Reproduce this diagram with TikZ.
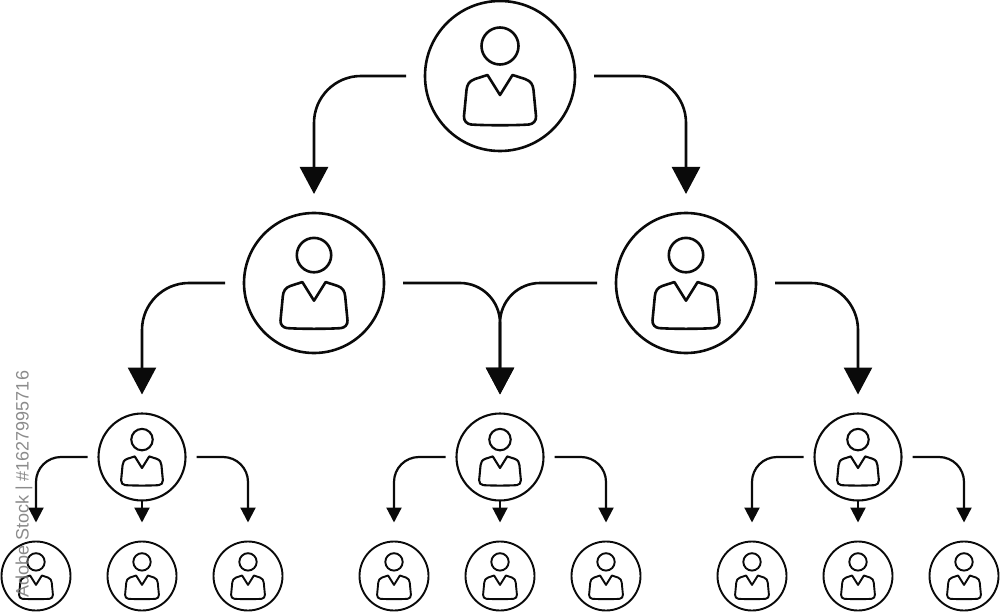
\documentclass[tikz,border=0pt]{standalone}
\usepackage{fontspec}
\setsansfont{Liberation Sans}
\usetikzlibrary{
  arrows.meta,
  positioning
}
\definecolor{orgInk}{HTML}{0A0A0A}
\definecolor{orgMark}{HTML}{777777}
\tikzset{
  personnode/.style 2 args={
    draw=orgInk, circle, inner sep=0pt, outer sep=0pt, minimum size=2*#1,
    path picture={
      \begin{scope}[shift={(path picture bounding box.center)}, x=#2pt, y=-#2pt]
        \draw[orgInk] (0,-30) circle[radius=18.5];
        \draw[orgInk, line join=round] (0,19) -- (12.5,-1) -- (25,3)
          .. controls (31,5) and (33,9) .. (33.5,14) -- (36,40)
          .. controls (36.5,45) and (33,48) .. (29,48.5)
          .. controls (15,49.5) and (-15,49.5) .. (-29,48.5)
          .. controls (-33,48) and (-36.5,45) .. (-36,40) -- (-33.5,14)
          .. controls (-33,9) and (-31,5) .. (-25,3) -- (-12.5,-1) -- cycle;
      \end{scope}
    }
  },
  persontop/.style={personnode={75pt}{1}, line width=2.6pt},
  personmid/.style={personnode={70pt}{0.93}, line width=2.6pt},
  personlow/.style={personnode={43.5pt}{0.58}, line width=2.1pt},
  personleaf/.style={personnode={34.5pt}{0.47}, line width=1.9pt},
  bigflow/.style={-{Triangle[length=27pt, width=28pt]}, line width=2.6pt, orgInk,
    rounded corners=47pt, shorten <=19pt, shorten >=19pt},
  mergeflow/.style={bigflow, rounded corners=40pt},
  smallflow/.style={-{Triangle[length=15pt, width=15pt]}, line width=2.2pt, orgInk,
    rounded corners=25pt, shorten <=11pt, shorten >=19pt},
  stubflow/.style={smallflow, shorten <=0pt},
  stockmark/.style={font=\sffamily\fontsize{18}{20}\selectfont, text=orgMark, opacity=0.85, rotate=90, inner sep=0pt}
}
\begin{document}
\begin{tikzpicture}[x=1pt, y=-1pt]
  \useasboundingbox (0,0) rectangle (1000,612);
  \node[persontop] (top) at (500,76) {};
  \node[personmid] (midl) at (314,283) {};
  \node[personmid] (midr) at (686,283) {};
  \node[personlow] (lowa) at (142,457) {};
  \node[personlow] (lowb) at (500,457) {};
  \node[personlow] (lowc) at (858,457) {};
  \node[personleaf, below=41pt of lowa] (leafab) {};
  \node[personleaf, left=37pt of leafab] (leafaa) {};
  \node[personleaf, right=37pt of leafab] (leafac) {};
  \node[personleaf, below=41pt of lowb] (leafbb) {};
  \node[personleaf, left=37pt of leafbb] (leafba) {};
  \node[personleaf, right=37pt of leafbb] (leafbc) {};
  \node[personleaf, below=41pt of lowc] (leafcb) {};
  \node[personleaf, left=37pt of leafcb] (leafca) {};
  \node[personleaf, right=37pt of leafcb] (leafcc) {};
  \draw[bigflow] (top.west) -| (midl.north);
  \draw[bigflow] (top.east) -| (midr.north);
  \draw[bigflow] (midl.west) -| (lowa.north);
  \draw[mergeflow] (midl.east) -| (lowb.north);
  \draw[mergeflow] (midr.west) -| (lowb.north);
  \draw[bigflow] (midr.east) -| (lowc.north);
  \draw[smallflow] (lowa.west) -| (leafaa.north);
  \draw[stubflow] (lowa.south) -- (leafab.north);
  \draw[smallflow] (lowa.east) -| (leafac.north);
  \draw[smallflow] (lowb.west) -| (leafba.north);
  \draw[stubflow] (lowb.south) -- (leafbb.north);
  \draw[smallflow] (lowb.east) -| (leafbc.north);
  \draw[smallflow] (lowc.west) -| (leafca.north);
  \draw[stubflow] (lowc.south) -- (leafcb.north);
  \draw[smallflow] (lowc.east) -| (leafcc.north);
  \node[stockmark, anchor=west] (stock) at (24,598) {Adobe Stock | \#1627995716};
\end{tikzpicture}
\end{document}
